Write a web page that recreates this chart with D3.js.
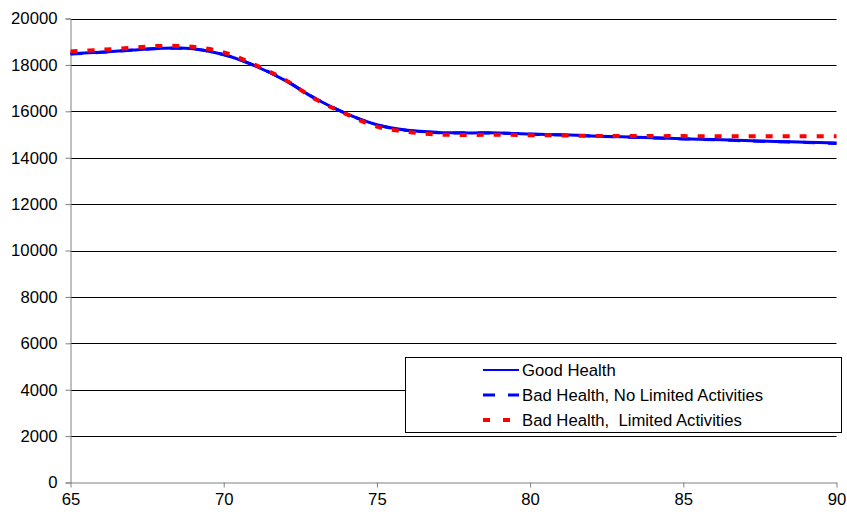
<!DOCTYPE html>
<html>
<head>
<meta charset="utf-8">
<script src="https://cdn.jsdelivr.net/npm/d3@7"></script>
<style>
  html, body { margin: 0; padding: 0; background: #fff; }
  svg { display: block; font-family: "Liberation Sans", Arial, sans-serif; }
  text { white-space: pre; }
</style>
</head>
<body>
<svg id="chart" width="847" height="514"></svg>
<script>
// Ages on the horizontal axis
const ages = [65, 66, 67, 68, 69, 70, 71, 72, 73, 74, 75, 76, 77, 78, 79, 80, 81, 82, 83, 84, 85, 86, 87, 88, 89, 90];

// Series values by age
const goodHealth = [18480, 18550, 18640, 18720, 18700, 18450, 17970, 17330, 16540, 15900, 15420, 15180, 15090, 15070, 15070, 15020, 14990, 14940, 14900, 14860, 14820, 14780, 14740, 14700, 14670, 14630];
const badNoLimited = [18470, 18540, 18630, 18710, 18690, 18440, 17980, 17340, 16550, 15900, 15410, 15170, 15080, 15060, 15060, 15010, 14980, 14930, 14890, 14850, 14810, 14770, 14730, 14690, 14660, 14610];
const badLimited = [18580, 18650, 18740, 18820, 18780, 18540, 18020, 17360, 16520, 15880, 15340, 15110, 15000, 14980, 14990, 14970, 14960, 14940, 14935, 14930, 14930, 14925, 14925, 14920, 14920, 14920];

const seriesNames = ["Good Health", "Bad Health, No Limited Activities", "Bad Health,  Limited Activities"];
const yTicks = [0, 2000, 4000, 6000, 8000, 10000, 12000, 14000, 16000, 18000, 20000];
const xTicks = [65, 70, 75, 80, 85, 90];

const svg = d3.select("#chart");
const plotLeft = 70.5, plotRight = 836.5, plotTop = 18.5, plotBottom = 482.5;
const fontSize = 16.7;

const x = d3.scaleLinear().domain([65, 90]).range([plotLeft, plotRight]);
const y = d3.scaleLinear().domain([0, 20000]).range([plotBottom, plotTop]);

// Horizontal gridlines
svg.append("g")
  .selectAll("line")
  .data(yTicks.filter(d => d > 0))
  .join("line")
  .attr("x1", plotLeft).attr("x2", plotRight)
  .attr("y1", d => Math.round(y(d)) + 0.5).attr("y2", d => Math.round(y(d)) + 0.5)
  .attr("stroke", "#000").attr("stroke-width", 1);

// Y axis
const yAxis = svg.append("g")
  .attr("transform", `translate(${plotLeft},0)`)
  .call(d3.axisLeft(y).tickValues(yTicks).tickSize(5).tickPadding(8).tickFormat(d3.format("d")));
yAxis.select(".domain").attr("stroke", "#808080");
yAxis.selectAll(".tick line").attr("stroke", "#808080");
yAxis.selectAll("text").attr("font-size", fontSize).attr("fill", "#000")
  .attr("font-family", "'Liberation Sans', Arial, sans-serif");

// X axis
const xAxis = svg.append("g")
  .attr("transform", `translate(0,${plotBottom})`)
  .call(d3.axisBottom(x).tickValues(xTicks).tickSize(5).tickPadding(6).tickSizeOuter(0));
xAxis.select(".domain").attr("stroke", "#808080");
xAxis.selectAll(".tick line").attr("stroke", "#808080");
xAxis.selectAll("text").attr("font-size", fontSize).attr("fill", "#000")
  .attr("font-family", "'Liberation Sans', Arial, sans-serif");

// Series lines
const line = d3.line()
  .x((d, i) => x(ages[i]))
  .y(d => y(d))
  .curve(d3.curveCatmullRom.alpha(0.5));

const styles = [
  { data: goodHealth, color: "#0000ff", width: 3, dash: null },
  { data: badNoLimited, color: "#0000ff", width: 3, dash: "12,13" },
  { data: badLimited, color: "#ff0000", width: 4, dash: "7,10" }
];

styles.forEach(s => {
  svg.append("path")
    .datum(s.data)
    .attr("d", line)
    .attr("fill", "none")
    .attr("stroke", s.color)
    .attr("stroke-width", s.width)
    .attr("stroke-dasharray", s.dash);
});

// Legend
const legend = svg.append("g");
legend.append("rect")
  .attr("x", 405.5).attr("y", 357.5)
  .attr("width", 436).attr("height", 75)
  .attr("fill", "#fff").attr("stroke", "#000").attr("stroke-width", 1);

const legendStyles = [
  { color: "#0000ff", width: 2, dash: null },
  { color: "#0000ff", width: 3, dash: "12,13" },
  { color: "#ff0000", width: 4, dash: "7,13" }
];

seriesNames.forEach((name, i) => {
  const cy = 370 + i * 25;
  legend.append("line")
    .attr("x1", 483).attr("x2", 519)
    .attr("y1", cy).attr("y2", cy)
    .attr("stroke", legendStyles[i].color)
    .attr("stroke-width", legendStyles[i].width)
    .attr("stroke-dasharray", legendStyles[i].dash);
  legend.append("text")
    .attr("x", 522).attr("y", cy + 6)
    .attr("font-size", fontSize)
    .attr("fill", "#000")
    .text(name);
});
</script>
</body>
</html>
